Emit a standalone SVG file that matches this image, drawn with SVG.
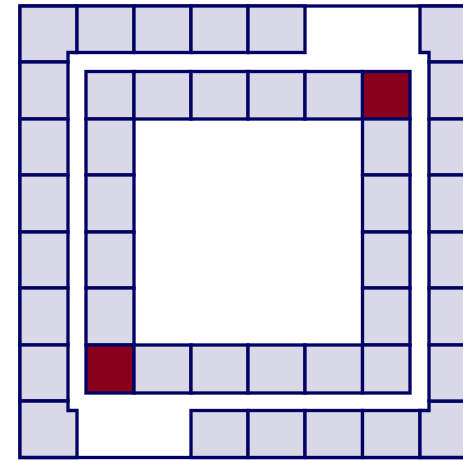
<svg xmlns="http://www.w3.org/2000/svg" width="463" height="460" viewBox="0 0 463 460">
<style>
.c{fill:#d8d8e6;stroke:#000066;stroke-width:3.3;stroke-linejoin:miter}
.r{fill:#88001a;stroke:#000066;stroke-width:3.3}
.b{fill:#ffffff;stroke:#000066;stroke-width:3.3}
</style>
<rect width="463" height="460" fill="#ffffff"/>
<g id="outer-frame"><rect class="b" x="20" y="6" width="457" height="451.5"/></g>
<g id="outer-ring">
<path id="o-tl" class="c" d="M20,6 H77 V52.5 H68 V62 H20 Z"/>
<rect id="o-t1" class="c" x="77" y="6" width="57" height="46.5"/>
<rect id="o-t2" class="c" x="134" y="6" width="57" height="46.5"/>
<rect id="o-t3" class="c" x="191" y="6" width="57" height="46.5"/>
<rect id="o-t4" class="c" x="248" y="6" width="57" height="46.5"/>
<path id="o-tr" class="c" d="M420,6 H477 V62 H429 V52.5 H420 Z"/>
<rect id="o-l1" class="c" x="20" y="62" width="48" height="57"/>
<rect id="o-l2" class="c" x="20" y="119" width="48" height="56"/>
<rect id="o-l3" class="c" x="20" y="175" width="48" height="57"/>
<rect id="o-l4" class="c" x="20" y="232" width="48" height="56"/>
<rect id="o-l5" class="c" x="20" y="288" width="48" height="57"/>
<rect id="o-l6" class="c" x="20" y="345" width="48" height="56"/>
<path id="o-bl" class="c" d="M20,401 H68 V410.5 H77 V457.5 H20 Z"/>
<rect id="o-b1" class="c" x="191" y="410.5" width="57" height="47"/>
<rect id="o-b2" class="c" x="248" y="410.5" width="57" height="47"/>
<rect id="o-b3" class="c" x="305" y="410.5" width="57.5" height="47"/>
<rect id="o-b4" class="c" x="362.5" y="410.5" width="57.5" height="47"/>
<path id="o-br" class="c" d="M420,410.5 H429 V401 H477 V457.5 H420 Z"/>
<rect id="o-r1" class="c" x="429" y="62" width="48" height="57"/>
<rect id="o-r2" class="c" x="429" y="119" width="48" height="56"/>
<rect id="o-r3" class="c" x="429" y="175" width="48" height="57"/>
<rect id="o-r4" class="c" x="429" y="232" width="48" height="56"/>
<rect id="o-r5" class="c" x="429" y="288" width="48" height="57"/>
<rect id="o-r6" class="c" x="429" y="345" width="48" height="56"/>
</g>
<g id="inner-ring">
<rect id="i-t0" class="c" x="86" y="71.5" width="48" height="47.5"/>
<rect id="i-t1" class="c" x="134" y="71.5" width="57" height="47.5"/>
<rect id="i-t2" class="c" x="191" y="71.5" width="57" height="47.5"/>
<rect id="i-t3" class="c" x="248" y="71.5" width="57" height="47.5"/>
<rect id="i-t4" class="c" x="305" y="71.5" width="57.5" height="47.5"/>
<rect id="i-t5" class="r" x="362.5" y="71.5" width="47.5" height="47.5"/>
<rect id="i-l1" class="c" x="86" y="119" width="48" height="56"/>
<rect id="i-l2" class="c" x="86" y="175" width="48" height="57"/>
<rect id="i-l3" class="c" x="86" y="232" width="48" height="56"/>
<rect id="i-l4" class="c" x="86" y="288" width="48" height="57"/>
<rect id="i-r1" class="c" x="362.5" y="119" width="47.5" height="56"/>
<rect id="i-r2" class="c" x="362.5" y="175" width="47.5" height="57"/>
<rect id="i-r3" class="c" x="362.5" y="232" width="47.5" height="56"/>
<rect id="i-r4" class="c" x="362.5" y="288" width="47.5" height="57"/>
<rect id="i-b0" class="r" x="86" y="345" width="48" height="48"/>
<rect id="i-b1" class="c" x="134" y="345" width="57" height="48"/>
<rect id="i-b2" class="c" x="191" y="345" width="57" height="48"/>
<rect id="i-b3" class="c" x="248" y="345" width="57" height="48"/>
<rect id="i-b4" class="c" x="305" y="345" width="57.5" height="48"/>
<rect id="i-b5" class="c" x="362.5" y="345" width="47.5" height="48"/>
</g>
<g id="connectors"/>
</svg>
